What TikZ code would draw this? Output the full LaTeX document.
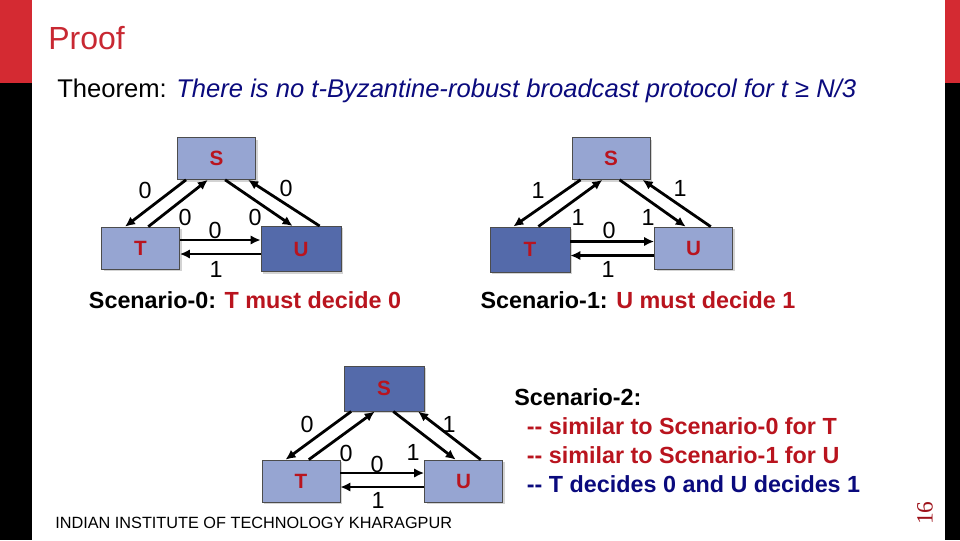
\documentclass[tikz,border=0pt]{standalone}
\usepackage{fontspec}
\setmainfont{Liberation Sans}
\newfontfamily\slidenum{Liberation Serif}
\usepackage{tikz}
\usetikzlibrary{arrows.meta,positioning,calc,shadows}
\definecolor{barred}{RGB}{212,42,50}
\definecolor{titlered}{RGB}{200,40,50}
\definecolor{txtred}{RGB}{185,20,30}
\definecolor{navy}{RGB}{10,10,125}
\definecolor{boxlight}{RGB}{150,165,210}
\definecolor{boxdark}{RGB}{84,106,170}
\tikzset{
  pbox/.style={draw=black!70, line width=0.5pt, fill=#1, inner sep=0pt,
               minimum width=58.5pt, minimum height=31.5pt, text=txtred,
               font=\fontsize{15.5}{18}\selectfont\bfseries,
               drop shadow={opacity=0.35, shadow xshift=1.5pt, shadow yshift=-1.5pt}},
  dbox/.style={pbox=boxdark, minimum width=60pt, minimum height=34pt},
  msg/.style={-{Latex[length=7.5pt,width=7pt]}, line width=2.1pt},
  bit/.style={font=\fontsize{17.5}{20}\selectfont, inner sep=0pt},
  caption/.style={font=\fontsize{17.5}{21.75}\selectfont\bfseries, inner sep=0pt},
}

\begin{document}
\begin{tikzpicture}[x=0.75pt, y=-0.75pt]
\useasboundingbox (0,0) rectangle (960,540);

% Side bars
\fill[barred] (0,0) rectangle (32,83);
\fill[black] (0,83) rectangle (32,540);
\fill[barred] (945,0) rectangle (960,83);
\fill[black] (945,83) rectangle (960,540);

% Title and theorem
\node[anchor=west, inner sep=0pt, text=titlered, font=\fontsize{24}{28}\selectfont] (title) at (48,38) {Proof};
\node[anchor=west, inner sep=0pt, font=\fontsize{19.2}{22}\selectfont] (thm) at (57,91)
     {Theorem: \textcolor{navy}{\itshape There is no t-Byzantine-robust broadcast protocol for t ≥ N/3}};

% Scenario 0
\node[pbox=boxlight] (S0) at (216.5,158.5) {S};
\node[pbox=boxlight] (T0) at (140.5,248) {T};
\node[dbox] (U0) at (301,249) {U};

\draw[msg] (S0.215) -- (T0.126);
\draw[msg] (T0.70) -- (S0.248);
\draw[msg] (S0.292) -- (U0.110);
\draw[msg] (U0.51) -- (S0.326);
\draw[msg] ([yshift=6pt]T0.east) -- ([yshift=6pt]T0.east -| U0.west);
\draw[msg] ([yshift=-4.5pt]T0.east -| U0.west) -- ([yshift=-4.5pt]T0.east);

\node[bit] (a0) at (145,190) {0};
\node[bit] (b0) at (185,217) {0};
\node[bit] (c0) at (215,230) {0};
\node[bit] (d0) at (255,217) {0};
\node[bit] (e0) at (286,188) {0};
\node[bit] (f0) at (216,269) {1};

\node[caption] (cap0) at (245,300) {Scenario-0: \textcolor{txtred}{T must decide 0}};

% Scenario 1
\node[pbox=boxlight] (S1) at (611,158.5) {S};
\node[dbox] (T1) at (530,249.5) {T};
\node[pbox=boxlight] (U1) at (693.5,248) {U};

\draw[msg] (S1.215) -- (T1.126);
\draw[msg] (T1.70) -- (S1.248);
\draw[msg] (S1.292) -- (U1.110);
\draw[msg] (U1.51) -- (S1.326);
\draw[msg] ([yshift=6pt]T1.east) -- ([yshift=6pt]T1.east -| U1.west);
\draw[msg] ([yshift=-4.5pt]T1.east -| U1.west) -- ([yshift=-4.5pt]T1.east);

\node[bit] (a1) at (538,190) {1};
\node[bit] (b1) at (578,217) {1};
\node[bit] (c1) at (609,230) {0};
\node[bit] (d1) at (648,217) {1};
\node[bit] (e1) at (680,188) {1};
\node[bit] (f1) at (608,269) {1};

\node[caption] (cap1) at (638,300) {Scenario-1: \textcolor{txtred}{U must decide 1}};

% Scenario 2
\node[dbox] (S2) at (384,388.5) {S};
\node[pbox=boxlight] (T2) at (301,481) {T};
\node[pbox=boxlight] (U2) at (463.5,481) {U};

\draw[msg] (S2.215) -- (T2.126);
\draw[msg] (T2.70) -- (S2.248);
\draw[msg] (S2.292) -- (U2.110);
\draw[msg] (U2.51) -- (S2.326);
\draw[msg] ([yshift=6pt]T2.east) -- ([yshift=6pt]T2.east -| U2.west);
\draw[msg] ([yshift=-4.5pt]T2.east -| U2.west) -- ([yshift=-4.5pt]T2.east);

\node[bit] (a2) at (307,424) {0};
\node[bit] (b2) at (346,453) {0};
\node[bit] (c2) at (377,464) {0};
\node[bit] (d2) at (413,452) {1};
\node[bit] (e2) at (449,424) {1};
\node[bit] (f2) at (378,500) {1};

\node[caption, anchor=north west, align=left] (cap2) at (514,388)
     {Scenario-2:\\
      \hspace{9.5pt}\textcolor{txtred}{{-}{-} similar to Scenario-0 for T}\\
      \hspace{9.5pt}\textcolor{txtred}{{-}{-} similar to Scenario-1 for U}\\
      \hspace{9.5pt}\textcolor{navy}{{-}{-} T decides 0 and U decides 1}};

% Footer
\node[anchor=west, inner sep=0pt, font=\fontsize{12.2}{14}\selectfont] (foot) at (55,523)
     {INDIAN INSTITUTE OF TECHNOLOGY KHARAGPUR};
\node[rotate=90, inner sep=0pt, text=txtred!85!black, font=\slidenum\fontsize{17.5}{20}\selectfont] (page) at (925,513) {16};

\end{tikzpicture}
\end{document}
